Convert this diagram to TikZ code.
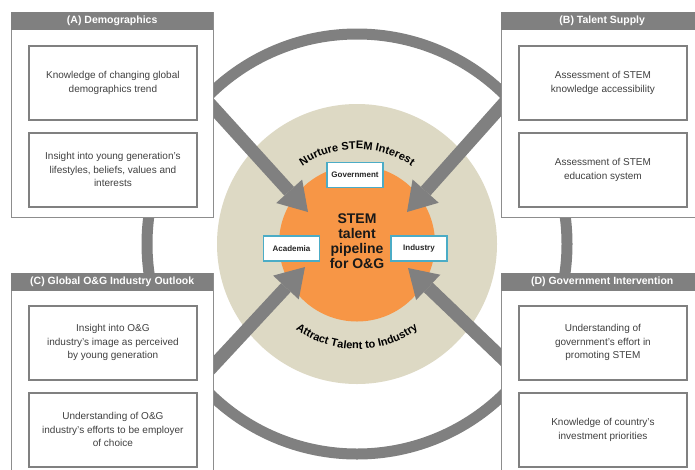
\documentclass[tikz,border=0pt]{standalone}
\usepackage{fontspec}
\setmainfont{Liberation Sans}
\usetikzlibrary{arrows.meta,decorations.text}

\definecolor{frame}{HTML}{808080}
\definecolor{beige}{HTML}{DDD9C4}
\definecolor{core}{HTML}{F79646}
\definecolor{tag}{HTML}{4BACC6}
\definecolor{bodytext}{HTML}{404040}

\tikzset{
  outerbox/.style={draw=frame!90, line width=1.4pt, fill=white, anchor=north west,
    minimum width=202pt, minimum height=205pt, inner sep=0pt},
  headbar/.style={fill=frame, text=white, font=\bfseries\fontsize{10.5}{12}\selectfont,
    anchor=north west, minimum width=202pt, minimum height=18pt, inner sep=0pt},
  itembox/.style={draw=frame, line width=1.8pt, fill=white, anchor=north west,
    minimum width=168pt, minimum height=74pt, inner sep=0pt, align=center,
    text=bodytext, font=\fontsize{10}{13.5}\selectfont},
  tagbox/.style={draw=tag, line width=1.3pt, fill=white, minimum width=56pt,
    minimum height=25pt, inner sep=0pt, font=\bfseries\fontsize{8}{9}\selectfont,
    text=black!85},
  bigarrow/.style={draw=frame, line width=13pt,
    -{Triangle[length=28pt,width=35pt,line width=0pt]}},
  ring/.style={draw=frame, line width=11pt},
  arctext/.style={decorate, decoration={text along path, text align=center,
    text={|\bfseries\fontsize{11}{12}\selectfont|#1}}},
}

\begin{document}
\begin{tikzpicture}[x=1pt,y=1pt]
  \useasboundingbox (0,0) rectangle (695,-469);
  \clip (0,0) rectangle (695,-469);
  \fill[white] (0,0) rectangle (695,-469);

  \coordinate (O) at (357,-244);

  % outer ring linking the four panels
  \draw[ring] (O) circle[radius=210];

  % discs
  \fill[beige] (O) circle[radius=140];
  \fill[core] (357,-243.5) circle[radius=78];

  % arrow anchors
  \coordinate (ulS) at (200,-93);   \coordinate (ulT) at (308,-212);
  \coordinate (urS) at (514,-92);   \coordinate (urT) at (407,-212);
  \coordinate (llS) at (200,-380);  \coordinate (llT) at (305,-267);
  \coordinate (lrS) at (514,-369.5);\coordinate (lrT) at (408,-268);

  \draw[bigarrow] (ulS) -- (ulT);
  \draw[bigarrow] (urS) -- (urT);
  \draw[bigarrow] (llS) -- (llT);
  \draw[bigarrow] (lrS) -- (lrT);

  % panel A
  \node[outerbox] (A) at (11,-12) {};
  \node[headbar] (Ah) at (11,-12) {(A) Demographics};
  \node[itembox] (A1) at (28,-45) {Knowledge of changing global\\demographics trend};
  \node[itembox] (A2) at (28,-132) {Insight into young generation's\\lifestyles, beliefs, values and\\interests};

  % panel B
  \node[outerbox] (B) at (501,-12) {};
  \node[headbar] (Bh) at (501,-12) {(B) Talent Supply};
  \node[itembox] (B1) at (518,-45) {Assessment of STEM\\knowledge accessibility};
  \node[itembox] (B2) at (518,-132) {Assessment of STEM\\education system};

  % panel C
  \node[outerbox] (C) at (11,-273) {};
  \node[headbar] (Ch) at (11,-273) {(C) Global O\&G Industry Outlook};
  \node[itembox] (C1) at (28,-305) {Insight into O\&G\\industry's image as perceived\\by young generation};
  \node[itembox] (C2) at (28,-392) {Understanding of O\&G\\industry's efforts to be employer\\of choice};

  % panel D
  \node[outerbox] (D) at (501,-273) {};
  \node[headbar] (Dh) at (501,-273) {(D) Government Intervention};
  \node[itembox] (D1) at (518,-305) {Understanding of\\government's effort in\\promoting STEM};
  \node[itembox] (D2) at (518,-392) {Knowledge of country's\\investment priorities};

  % stakeholders
  \node[tagbox] (gov) at (355,-175) {Government};
  \node[tagbox] (aca) at (291.5,-248.5) {Academia};
  \node[tagbox] (ind) at (419,-248.5) {Industry};

  % centre statement
  \node[font=\bfseries\fontsize{14}{15}\selectfont, align=center, text=black!90]
    (pipe) at (357,-241) {STEM\\talent\\pipeline\\for O\&G};

  % curved captions
  \path[arctext={Nurture STEM Interest}]
    ([shift={(140:95)}]O) arc[start angle=140, end angle=40, radius=95];
  \path[arctext={Attract Talent to Industry}]
    ([shift={(216:105)}]O) arc[start angle=216, end angle=324, radius=105];
\end{tikzpicture}
\end{document}
